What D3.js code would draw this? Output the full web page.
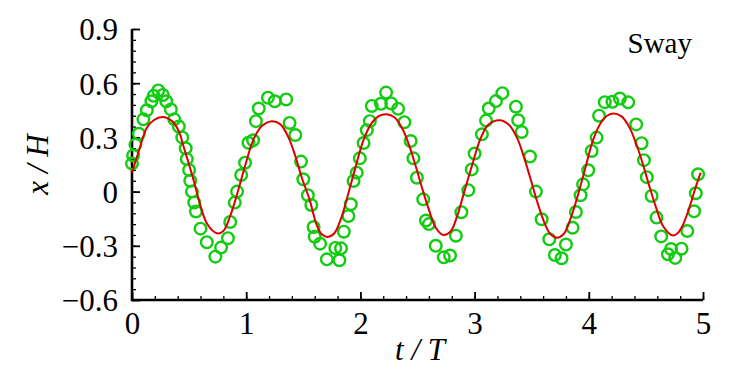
<!DOCTYPE html>
<html>
<head>
<meta charset="utf-8">
<script src="https://cdn.jsdelivr.net/npm/d3@7"></script>
</head>
<body style="margin:0; background:#fff">
<svg id="chart" width="738" height="369"></svg>
<script>
// measured sway (green circles), t/T and x/H
const expT = [0.00, 0.01, 0.03, 0.06, 0.10, 0.13, 0.17, 0.19, 0.23, 0.27, 0.30, 0.34, 0.37, 0.41, 0.44, 0.47, 0.48, 0.50, 0.51, 0.525,
  0.545, 0.56, 0.60, 0.655, 0.73, 0.78, 0.84, 0.86, 0.90, 0.92, 0.956, 0.99, 1.02, 1.06, 1.085, 1.11, 1.19, 1.25, 1.35, 1.38,
  1.43, 1.48, 1.50, 1.54, 1.57, 1.59, 1.60, 1.647, 1.706, 1.78, 1.816, 1.83, 1.855, 1.895, 1.916, 1.94, 1.968, 1.995, 2.028, 2.056,
  2.083, 2.10, 2.18, 2.225, 2.27, 2.33, 2.385, 2.44, 2.464, 2.495, 2.55, 2.574, 2.60, 2.66, 2.73, 2.785, 2.836, 2.884, 2.945, 2.975,
  3.0, 3.064, 3.10, 3.124, 3.187, 3.243, 3.362, 3.382, 3.412, 3.485, 3.537, 3.587, 3.654, 3.703, 3.762, 3.80, 3.858, 3.887, 3.928, 3.95,
  3.995, 4.025, 4.068, 4.09, 4.14, 4.207, 4.272, 4.345, 4.415, 4.462, 4.483, 4.508, 4.55, 4.593, 4.634, 4.693, 4.72, 4.757, 4.812, 4.862,
  4.922, 4.937, 4.957]
const expX = [0.155, 0.20, 0.26, 0.32, 0.40, 0.45, 0.50, 0.53, 0.56, 0.535, 0.50, 0.455, 0.40, 0.36, 0.30, 0.24, 0.18, 0.12, 0.06, 0.00,
  -0.06, -0.11, -0.205, -0.28, -0.36, -0.31, -0.258, -0.168, -0.061, 0.0, 0.092, 0.16, 0.27, 0.284, 0.39, 0.46, 0.52, 0.50, 0.51, 0.38,
  0.313, 0.166, 0.068, -0.02, -0.074, -0.196, -0.25, -0.288, -0.375, -0.312, -0.38, -0.314, -0.222, -0.135, -0.07, 0.059, 0.105, 0.184, 0.269, 0.34,
  0.39, 0.474, 0.486, 0.548, 0.488, 0.458, 0.384, 0.28, 0.184, 0.077, -0.043, -0.16, -0.18, -0.30, -0.364, -0.354, -0.244, -0.114, 0.008, 0.123,
  0.211, 0.317, 0.393, 0.46, 0.501, 0.545, 0.47, 0.395, 0.33, 0.194, 0.0, -0.153, -0.264, -0.351, -0.369, -0.293, -0.20, -0.113, -0.02, 0.04,
  0.118, 0.225, 0.299, 0.42, 0.495, 0.497, 0.515, 0.494, 0.372, 0.268, 0.174, 0.08, -0.024, -0.144, -0.248, -0.347, -0.318, -0.367, -0.316, -0.218,
  -0.109, -0.009, 0.096]

// computed sway (red line)
const simT = [0, 0.06, 0.13, 0.19, 0.27, 0.35, 0.41, 0.45, 0.495, 0.545, 0.60, 0.66, 0.744, 0.80, 0.86, 0.924, 0.99, 1.064, 1.137, 1.225,
  1.30, 1.37, 1.43, 1.487, 1.554, 1.62, 1.66, 1.71, 1.77, 1.83, 1.89, 1.955, 2.03, 2.10, 2.16, 2.23, 2.30, 2.37, 2.43, 2.48,
  2.54, 2.60, 2.66, 2.726, 2.79, 2.85, 2.91, 2.98, 3.05, 3.12, 3.22, 3.30, 3.37, 3.43, 3.49, 3.55, 3.61, 3.66, 3.72, 3.78,
  3.84, 3.90, 3.965, 4.04, 4.11, 4.16, 4.22, 4.29, 4.36, 4.42, 4.47, 4.53, 4.59, 4.65, 4.73, 4.77, 4.82, 4.885, 4.93, 4.98]
const simX = [0.105, 0.225, 0.354, 0.395, 0.413, 0.39, 0.335, 0.252, 0.16, 0.05, -0.08, -0.181, -0.231, -0.218, -0.135, -0.006, 0.142, 0.289, 0.363, 0.39,
  0.372, 0.30, 0.197, 0.077, -0.043, -0.19, -0.235, -0.251, -0.232, -0.15, -0.02, 0.13, 0.29, 0.38, 0.418, 0.428, 0.41, 0.345, 0.25, 0.15,
  0.02, -0.10, -0.20, -0.24, -0.22, -0.13, 0.0, 0.15, 0.29, 0.37, 0.395, 0.37, 0.30, 0.195, 0.07, -0.06, -0.17, -0.232, -0.255, -0.235,
  -0.15, -0.03, 0.12, 0.29, 0.385, 0.42, 0.432, 0.415, 0.35, 0.255, 0.16, 0.03, -0.09, -0.19, -0.242, -0.235, -0.19, -0.08, 0.013, 0.105]

const xTicks = [0, 1, 2, 3, 4, 5]
const yTicks = [-0.6, -0.3, 0, 0.3, 0.6, 0.9]

const FONT = '"Liberation Serif"'
const svg = d3.select('#chart')
const m = {left: 132, right: 35, top: 29, bottom: 69}
const W = 738, H = 369

const x = d3.scaleLinear().domain([0, 5]).range([m.left, W - m.right])
const y = d3.scaleLinear().domain([-0.6, 0.9]).range([H - m.bottom, m.top])

// minor ticks, pointing into the plot
const xMinor = d3.range(0, 5.001, 0.2)
const yMinor = d3.range(-0.6, 0.9001, 0.06)

svg.append('g')
  .attr('transform', `translate(0,${y(-0.6)})`)
  .call(d3.axisBottom(x).tickValues(xMinor).tickSize(-4).tickFormat(''))
  .call((g) => g.select('.domain').remove())
  .selectAll('line').attr('stroke-width', 1.3)

svg.append('g')
  .attr('transform', `translate(${x(0)},0)`)
  .call(d3.axisLeft(y).tickValues(yMinor).tickSize(-4).tickFormat(''))
  .call((g) => g.select('.domain').remove())
  .selectAll('line').attr('stroke-width', 1.3)

// major ticks + labels
const fmt = (d) => (d === 0 ? '0' : d3.format('.1f')(d))

const gx = svg.append('g')
  .attr('transform', `translate(0,${y(-0.6)})`)
  .call(d3.axisBottom(x).tickValues(xTicks).tickSize(-8).tickPadding(12).tickFormat(d3.format('d')))
gx.select('.domain').remove()
gx.selectAll('line').attr('stroke-width', 1.8)
gx.selectAll('text')
  .style('font-family', FONT).style('font-size', '31px')
  .attr('dy', '0.72em')

const gy = svg.append('g')
  .attr('transform', `translate(${x(0)},0)`)
  .call(d3.axisLeft(y).tickValues(yTicks).tickSize(-8).tickPadding(14).tickFormat(fmt))
gy.select('.domain').remove()
gy.selectAll('line').attr('stroke-width', 1.8)
gy.selectAll('text')
  .style('font-family', FONT).style('font-size', '31px')
  .attr('dy', '0.35em')

// axis lines (left and bottom only)
svg.append('path')
  .attr('d', d3.line()([[x(0), y(0.9)], [x(0), y(-0.6)], [x(5), y(-0.6)]]))
  .attr('fill', 'none')
  .attr('stroke', '#000')
  .attr('stroke-width', 2.6)

// experiment circles
svg.append('g')
  .selectAll('circle')
  .data(expT.map((t, i) => [t, expX[i]]))
  .join('circle')
  .attr('cx', (d) => x(d[0]))
  .attr('cy', (d) => y(d[1]))
  .attr('r', 5.8)
  .attr('fill', 'none')
  .attr('stroke', '#11cc11')
  .attr('stroke-width', 2.4)

// computed line
svg.append('path')
  .datum(simT.map((t, i) => [t, simX[i]]))
  .attr('d', d3.line().x((d) => x(d[0])).y((d) => y(d[1])).curve(d3.curveCatmullRom))
  .attr('fill', 'none')
  .attr('stroke', '#dd0000')
  .attr('stroke-width', 2)

// labels
svg.append('text')
  .attr('x', 420).attr('y', 360)
  .attr('text-anchor', 'middle')
  .style('font-family', FONT)
  .style('font-size', '31px').style('font-style', 'italic')
  .text('t / T')

svg.append('text')
  .attr('transform', `translate(48,${y(0.15)}) rotate(-90)`)
  .attr('text-anchor', 'middle')
  .style('font-family', FONT)
  .style('font-size', '31px').style('font-style', 'italic')
  .text('x / H')

svg.append('text')
  .attr('x', 692).attr('y', 53)
  .attr('text-anchor', 'end')
  .style('font-family', FONT)
  .style('font-size', '29px')
  .text('Sway')
</script>
</body>
</html>
